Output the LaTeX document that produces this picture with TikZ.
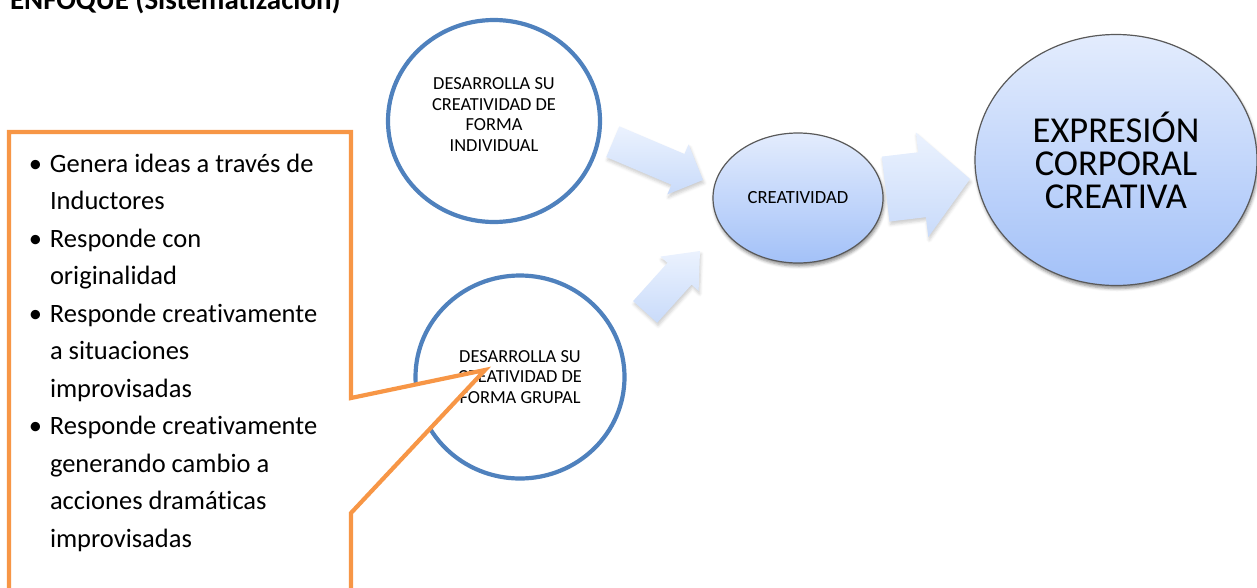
\documentclass[tikz,border=0pt]{standalone}
\usepackage{fontspec}
\setmainfont{Carlito}[Ligatures = NoCommon]
\usepackage{tikz}
\usetikzlibrary{positioning}
\usetikzlibrary{shapes.geometric, shapes.arrows, shadows.blur}
\definecolor{ringblue}{HTML}{4F81BD}
\definecolor{calloutorange}{HTML}{F79646}
\definecolor{ovaltop}{HTML}{E3ECFD}
\definecolor{ovalbottom}{HTML}{A3C1F8}
\definecolor{arrowlight}{HTML}{EBF2FE}
\definecolor{arrowdark}{HTML}{C9DBFA}
\newcommand{\vineta}{\leavevmode\llap{\textbullet\hspace{8pt}}}

\begin{document}
\begin{tikzpicture}[
x = 1pt, y = -1pt,
every node/.style = {inner sep = 0pt, outer sep = 0pt},
ring/.style = {ellipse, draw = ringblue, line width = 4.2pt, fill = white, align = center,
  font = \fontsize{18.4}{20.5}\selectfont},
oval/.style = {ellipse, draw = black!65, line width = 1.2pt, top color = ovaltop,
  bottom color = ovalbottom, align = center,
  blur shadow = {shadow xshift = 1pt, shadow yshift = -3pt, shadow opacity = 45, shadow blur radius = 3pt}},
bigarrow/.style = {single arrow, single arrow head indent = 0pt, anchor = tip,
  top color = arrowlight, bottom color = arrowdark,
  blur shadow = {shadow xshift = 1pt, shadow yshift = -3pt, shadow opacity = 20, shadow blur radius = 3pt}},
callout/.style = {draw = calloutorange, line width = 4.2pt, fill = white, line join = miter},
points/.style = {anchor = base west, text width = 300pt, align = flush left,
  font = \fontsize{26.5}{37.5}\selectfont}
]
\useasboundingbox (0,0) rectangle (1257,587);

% title, cut by the top edge
\node[anchor = base west, font = \bfseries\fontsize{29}{34}\selectfont] (titulo) at (10,9)
  {ENFOQUE (Sistematización)};

% the two ways of working
\node[ring, minimum width = 212pt, minimum height = 202pt] (individual) at (494,121)
  {DESARROLLA SU\\CREATIVIDAD DE\\FORMA\\INDIVIDUAL\\[-8pt]\mbox{}};
\node[ring, minimum width = 209pt, minimum height = 203pt] (grupal) at (520,377)
  {DESARROLLA SU\\CREATIVIDAD DE\\FORMA GRUPAL};

% result
\node[oval, minimum width = 170pt, minimum height = 130pt, font = \fontsize{18.6}{21}\selectfont]
  (creatividad) at (798,198) {CREATIVIDAD};
\node[oval, minimum width = 282pt, minimum height = 251pt, font = \fontsize{36.5}{33}\selectfont]
  (expresion) at (1116,160) {EXPRESIÓN\\CORPORAL\\CREATIVA};

% block arrows
\node[bigarrow, rotate = -23, minimum height = 98pt, inner ysep = 16.5pt,
  single arrow head extend = 10.5pt, single arrow tip angle = 90] (flecha1) at (703,180) {};
\node[bigarrow, rotate = 48, minimum height = 82pt, inner ysep = 16pt,
  single arrow head extend = 9.5pt, single arrow tip angle = 80] (flecha2) at (700,251) {};
\node[bigarrow, rotate = 6.8, minimum height = 85pt, inner ysep = 32.5pt,
  single arrow head extend = 20pt, single arrow tip angle = 95] (flecha3) at (970,179) {};

% callout with the list
\coordinate (puntero) at (485,370);
\draw[callout] (9,132) -- (351,132) -- (351,398) -- (puntero) -- (351,513)
  -- (351,600) -- (9,600) -- cycle;
\node[points] (lista) at (50,172)
  {\vineta Genera ideas a través de\\
   Inductores\\
   \vineta Responde con\\
   originalidad\\
   \vineta Responde creativamente\\
   a situaciones\\
   improvisadas\\
   \vineta Responde creativamente\\
   generando cambio a\\
   acciones dramáticas\\
   improvisadas};
\end{tikzpicture}
\end{document}
